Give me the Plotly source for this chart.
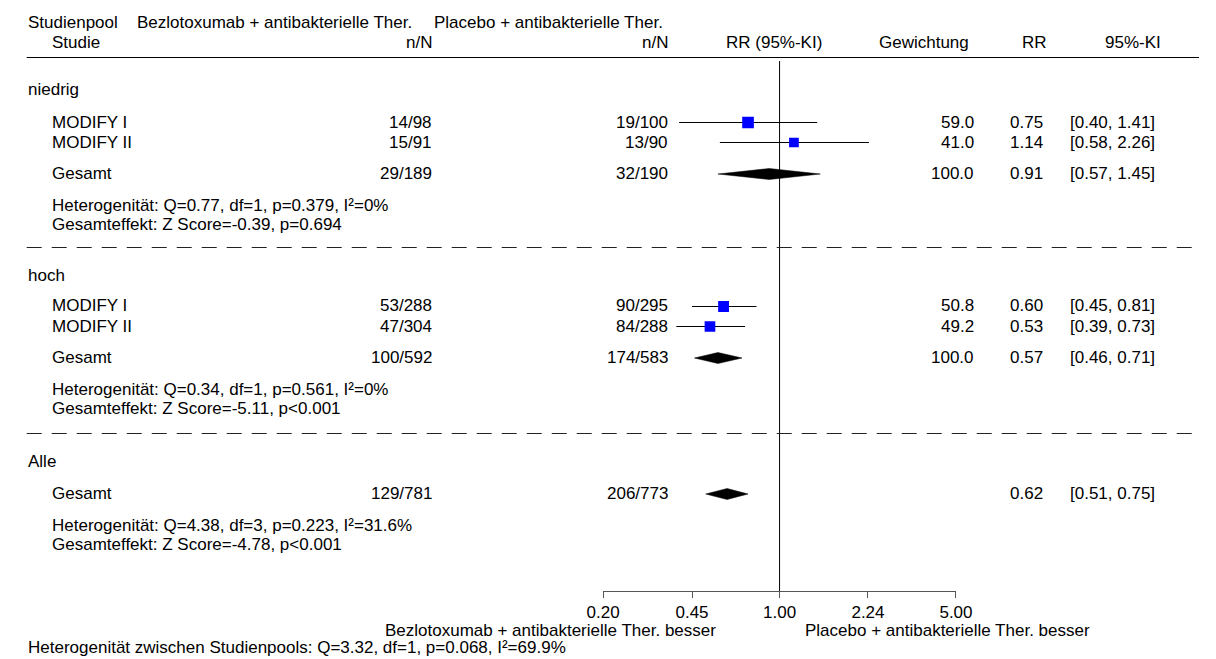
import math
import plotly.graph_objects as go

# ---------------- data ----------------
group_names = ["niedrig", "hoch", "Alle"]
study_names = ["MODIFY I", "MODIFY II", "MODIFY I", "MODIFY II"]
study_bez = ["14/98", "15/91", "53/288", "47/304"]
study_pla = ["19/100", "13/90", "90/295", "84/288"]
study_weight = [59.0, 41.0, 50.8, 49.2]
study_rr = [0.75, 1.14, 0.60, 0.53]
study_lo = [0.40, 0.58, 0.45, 0.39]
study_hi = [1.41, 2.26, 0.81, 0.73]

pooled_bez = ["29/189", "100/592", "129/781"]
pooled_pla = ["32/190", "174/583", "206/773"]
pooled_weight = [100.0, 100.0, None]
pooled_rr = [0.91, 0.57, 0.62]
pooled_lo = [0.57, 0.46, 0.51]
pooled_hi = [1.45, 0.71, 0.75]

het_text = [
    "Heterogenität: Q=0.77, df=1, p=0.379, I²=0%",
    "Heterogenität: Q=0.34, df=1, p=0.561, I²=0%",
    "Heterogenität: Q=4.38, df=3, p=0.223, I²=31.6%",
]
effect_text = [
    "Gesamteffekt: Z Score=-0.39, p=0.694",
    "Gesamteffekt: Z Score=-5.11, p<0.001",
    "Gesamteffekt: Z Score=-4.78, p<0.001",
]
between_text = "Heterogenität zwischen Studienpools: Q=3.32, df=1, p=0.068, I²=69.9%"

tick_vals = [0.20, 0.45, 1.00, 2.24, 5.00]
tick_text = ["0.20", "0.45", "1.00", "2.24", "5.00"]
x_min, x_max = 0.20, 5.00

arm1 = "Bezlotoxumab + antibakterielle Ther."
arm2 = "Placebo + antibakterielle Ther."

# ---------------- layout (pixel positions) ----------------
W, H = 1216, 659
AX_L, AX_R, AX_Y = 603, 966, 591
group_y = [90, 275, 461]
study_y = [122.5, 142.5, 306.5, 326.5]
pooled_y = [174, 358, 494]
het_y = [205, 389, 525]
eff_y = [224, 408, 544]
dashed_y = [247, 433]

FONT = "Liberation Sans, Arial, sans-serif"
FS = 17


def px(x):
    return x / W


def py(y):
    return 1 - y / H


fig = go.Figure()
ann = []


def txt(x, y, s, anchor="left"):
    ann.append(dict(x=px(x), y=py(y), xref="paper", yref="paper", text=s,
                    showarrow=False, xanchor=anchor, yanchor="middle",
                    borderpad=0,
                    font=dict(family=FONT, size=FS, color="#000")))


# header
txt(10, 23, "Studienpool")
txt(122, 23, arm1)
txt(428, 23, arm2)
txt(35, 42, "Studie")
txt(428, 42, "n/N", "right")
txt(671, 42, "n/N", "right")
txt(779, 42, "RR (95%-KI)", "center")
txt(933, 42, "Gewichtung", "center")
txt(1047, 42, "RR", "center")
txt(1148, 42, "95%-KI", "center")

# group rows
for g, gy in zip(group_names, group_y):
    txt(10, gy, g)

for i, name in enumerate(study_names):
    y = round(study_y[i])
    txt(35, y, name)
    txt(428, y, study_bez[i], "right")
    txt(671, y, study_pla[i], "right")
    txt(986, y, f"{study_weight[i]:.1f}", "right")
    txt(1057, y, f"{study_rr[i]:.2f}", "right")
    txt(1172, y, f"[{study_lo[i]:.2f}, {study_hi[i]:.2f}]", "right")

for j in range(3):
    y = pooled_y[j]
    txt(35, y, "Gesamt")
    txt(428, y, pooled_bez[j], "right")
    txt(671, y, pooled_pla[j], "right")
    if pooled_weight[j] is not None:
        txt(986, y, f"{pooled_weight[j]:.1f}", "right")
    txt(1057, y, f"{pooled_rr[j]:.2f}", "right")
    txt(1172, y, f"[{pooled_lo[j]:.2f}, {pooled_hi[j]:.2f}]", "right")
    txt(35, het_y[j], het_text[j])
    txt(35, eff_y[j], effect_text[j])

txt(720, 630, arm1 + " besser", "right")
txt(810, 630, arm2 + " besser", "left")
txt(10, 647, between_text)

# ---------------- marks ----------------
# CI lines
cx, cy = [], []
for i in range(len(study_rr)):
    cx += [study_lo[i], study_hi[i], None]
    cy += [study_y[i], study_y[i], None]
fig.add_trace(go.Scatter(x=cx, y=cy, mode="lines",
                         line=dict(color="#000", width=1), hoverinfo="skip"))

# squares (size scaled by weight)
fig.add_trace(go.Scatter(
    x=study_rr, y=study_y, mode="markers",
    marker=dict(symbol="square", color="#0000FF", opacity=1,
                size=[1.52 * w ** 0.5 for w in study_weight],
                line=dict(width=0)),
    hoverinfo="skip"))

# diamonds
DH = 5.5
for j in range(3):
    y = pooled_y[j]
    fig.add_trace(go.Scatter(
        x=[pooled_lo[j], pooled_rr[j], pooled_hi[j], pooled_rr[j], pooled_lo[j]],
        y=[y, y - DH, y, y + DH, y],
        mode="lines", fill="toself", fillcolor="#000",
        line=dict(color="#000", width=0.5), hoverinfo="skip"))

shapes = []
# vertical reference line
shapes.append(dict(type="line", xref="x", yref="y", x0=1, x1=1, y0=61, y1=AX_Y,
                   line=dict(color="#000", width=1)))
# header line
shapes.append(dict(type="line", xref="paper", yref="y", x0=px(10), x1=px(1216),
                   y0=57.5, y1=57.5, line=dict(color="#000", width=1)))
for dy in dashed_y:
    shapes.append(dict(type="line", xref="paper", yref="y", x0=px(10), x1=px(1212),
                       y0=dy + 0.5, y1=dy + 0.5,
                       line=dict(color="#222", width=1, dash="15px,10px")))

fig.update_layout(
    width=W, height=H,
    margin=dict(l=0, r=0, t=0, b=0),
    paper_bgcolor="#fff", plot_bgcolor="rgba(0,0,0,0)",
    showlegend=False,
    font=dict(family=FONT, size=FS, color="#000"),
    annotations=ann, shapes=shapes,
    xaxis=dict(type="log", domain=[px(AX_L), px(AX_R)],
               range=[math.log10(x_min), math.log10(x_max)],
               tickvals=tick_vals, ticktext=tick_text,
               ticks="outside", ticklen=6, tickcolor="#555", tickwidth=1,
               showline=True, linecolor="#555", linewidth=1,
               showgrid=False, zeroline=False,
               tickfont=dict(family=FONT, size=FS, color="#000"),
               fixedrange=True),
    yaxis=dict(domain=[1 - AX_Y / H, 1], range=[AX_Y, 0], visible=False,
               fixedrange=True),
)

fig.write_html(
    "out.html",
    config={"displayModeBar": False},
    post_script="document.body.style.margin='0';document.body.style.overflow='hidden';",
)
